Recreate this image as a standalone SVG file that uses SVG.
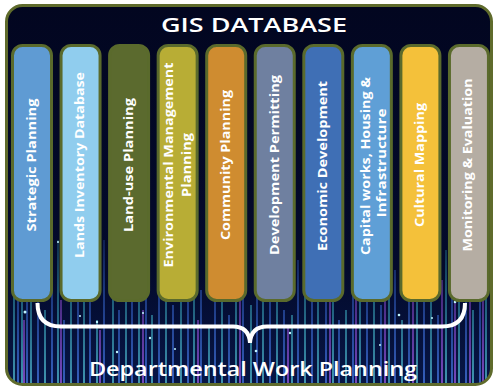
<svg xmlns="http://www.w3.org/2000/svg" width="494" height="387" viewBox="0 0 494 387">
<defs>
<linearGradient id="gc" gradientUnits="userSpaceOnUse" x1="0" y1="190" x2="0" y2="387"><stop offset="0" stop-color="#3fc6d8" stop-opacity="0"/><stop offset="0.5" stop-color="#3fc6d8" stop-opacity="0.55"/><stop offset="1" stop-color="#5fd6e8" stop-opacity="0.95"/></linearGradient>
<linearGradient id="gb" gradientUnits="userSpaceOnUse" x1="0" y1="190" x2="0" y2="387"><stop offset="0" stop-color="#3a6fe0" stop-opacity="0"/><stop offset="0.5" stop-color="#3a6fe0" stop-opacity="0.6"/><stop offset="1" stop-color="#4a80f0" stop-opacity="1"/></linearGradient>
<linearGradient id="gp" gradientUnits="userSpaceOnUse" x1="0" y1="190" x2="0" y2="387"><stop offset="0" stop-color="#8a3fd0" stop-opacity="0"/><stop offset="0.5" stop-color="#9a4fe0" stop-opacity="0.6"/><stop offset="1" stop-color="#a85ff0" stop-opacity="1"/></linearGradient>
<linearGradient id="bg" x1="0" y1="0" x2="0" y2="1"><stop offset="0" stop-color="#020620"/><stop offset="0.7" stop-color="#030a2c"/><stop offset="1" stop-color="#071646"/></linearGradient>
<clipPath id="frameClip"><rect x="6.5" y="5.5" width="485" height="379" rx="16"/></clipPath>
<style>
.bar{stroke:#5a6a2c;stroke-width:3}
.lbl{font-family:"Open Sans","Liberation Sans",sans-serif;font-weight:700;font-size:12.5px;fill:#ffffff;text-anchor:middle}
.title{font-family:"Open Sans","Liberation Sans",sans-serif;font-weight:600;fill:#ffffff;text-anchor:middle}
.brace{fill:none;stroke:#ffffff;stroke-width:4}
.dot{fill:#bff4ff}
</style>
</defs>
<rect x="6.5" y="5.5" width="485" height="379" rx="16" fill="url(#bg)"/>
<g id="background" clip-path="url(#frameClip)">
<path stroke="url(#gc)" stroke-width="1.4" d="M14,250V387M22,290V387M31,265V387M45,310V387M58,240V387M71,300V387M84,275V387M97,320V387M113,255V387M126,295V387M139,270V387M152,315V387M166,245V387M181,300V387M194,280V387M209,325V387M222,260V387M236,290V387M251,305V387M263,250V387M277,285V387M292,315V387M305,265V387M318,300V387M333,240V387M346,310V387M360,275V387M374,295V387M389,255V387M402,320V387M417,270V387M431,300V387M446,250V387M459,290V387M473,310V387M486,265V387"/>
<path stroke="url(#gb)" stroke-width="1.4" d="M18,300V387M27,230V387M38,285V387M52,260V387M64,320V387M78,250V387M90,295V387M104,240V387M119,310V387M132,265V387M146,285V387M159,230V387M173,305V387M188,260V387M201,290V387M215,240V387M229,315V387M243,270V387M257,295V387M270,240V387M284,310V387M298,260V387M312,290V387M326,250V387M339,320V387M353,265V387M367,240V387M381,305V387M395,270V387M409,290V387M424,245V387M438,315V387M452,270V387M466,295V387M480,250V387"/>
<path stroke="url(#gp)" stroke-width="1.4" d="M24,320V387M61,300V387M100,330V387M143,310V387M198,320V387M240,300V387M288,325V387M330,290V387M356,270V387M385,300V387M413,260V387M442,280V387M455,300V387M470,255V387M483,290V387"/>
<g class="dot"><circle cx="25" cy="312" r="1.5"/><circle cx="58" cy="242" r="1"/><circle cx="80" cy="316" r="1"/><circle cx="97" cy="322" r="1.2"/><circle cx="117" cy="352" r="1.2"/><circle cx="143" cy="313" r="1"/><circle cx="175" cy="349" r="1"/><circle cx="209" cy="327" r="1"/><circle cx="236" cy="292" r="1"/><circle cx="256" cy="351" r="1.3"/><circle cx="305" cy="267" r="1"/><circle cx="330" cy="292" r="1"/><circle cx="356" cy="272" r="1.2"/><circle cx="399" cy="315" r="1.3"/><circle cx="413" cy="262" r="1"/><circle cx="455" cy="302" r="1.3"/><circle cx="470" cy="256" r="1.2"/><circle cx="432" cy="318" r="1"/><circle cx="150" cy="338" r="1.2"/><circle cx="290" cy="333" r="1.2"/><circle cx="380" cy="345" r="1"/></g>
</g>
<rect id="frame" x="6.5" y="5.5" width="485" height="379" rx="16" fill="none" stroke="#5f6b2c" stroke-width="3"/>
<text id="title" class="title" x="254" y="32" font-size="19" textLength="186" lengthAdjust="spacingAndGlyphs">GIS DATABASE</text>
<g id="bar1"><rect class="bar" x="12.5" y="45.5" width="39" height="255" rx="10" fill="#5f9bd3"/><text class="lbl" transform="translate(35.5,165) rotate(-90)" textLength="133" lengthAdjust="spacingAndGlyphs">Strategic Planning</text></g>
<g id="bar2"><rect class="bar" x="61.05" y="45.5" width="39" height="255" rx="10" fill="#90cdee"/><text class="lbl" transform="translate(84.2,165) rotate(-90)" textLength="186" lengthAdjust="spacingAndGlyphs">Lands Inventory Database</text></g>
<g id="bar3"><rect class="bar" x="109.6" y="45.5" width="39" height="255" rx="10" fill="#5b6a2e"/><text class="lbl" transform="translate(132.8,165) rotate(-90)" textLength="134" lengthAdjust="spacingAndGlyphs">Land-use Planning</text></g>
<g id="bar4"><rect class="bar" x="158.15" y="45.5" width="39" height="255" rx="10" fill="#b8ad35"/><text class="lbl" transform="translate(173.3,165) rotate(-90)" textLength="205" lengthAdjust="spacingAndGlyphs">Environmental Management</text><text class="lbl" transform="translate(190.6,165) rotate(-90)" textLength="64" lengthAdjust="spacingAndGlyphs">Planning</text></g>
<g id="bar5"><rect class="bar" x="206.7" y="45.5" width="39" height="255" rx="10" fill="#cf8c30"/><text class="lbl" transform="translate(229.9,165) rotate(-90)" textLength="150" lengthAdjust="spacingAndGlyphs">Community Planning</text></g>
<g id="bar6"><rect class="bar" x="255.25" y="45.5" width="39" height="255" rx="10" fill="#6f80a0"/><text class="lbl" transform="translate(278.5,165) rotate(-90)" textLength="180" lengthAdjust="spacingAndGlyphs">Development Permitting</text></g>
<g id="bar7"><rect class="bar" x="303.8" y="45.5" width="39" height="255" rx="10" fill="#3f6fb5"/><text class="lbl" transform="translate(327,166) rotate(-90)" textLength="170" lengthAdjust="spacingAndGlyphs">Economic Development</text></g>
<g id="bar8"><rect class="bar" x="352.35" y="45.5" width="39" height="255" rx="10" fill="#5f9fd6"/><text class="lbl" transform="translate(369.8,166) rotate(-90)" textLength="178" lengthAdjust="spacingAndGlyphs">Capital works, Housing &amp;</text><text class="lbl" transform="translate(385.8,163) rotate(-90)" textLength="109" lengthAdjust="spacingAndGlyphs">Infrastructure</text></g>
<g id="bar9"><rect class="bar" x="400.9" y="45.5" width="39" height="255" rx="10" fill="#f4c13a"/><text class="lbl" transform="translate(424,165) rotate(-90)" textLength="124" lengthAdjust="spacingAndGlyphs">Cultural Mapping</text></g>
<g id="bar10"><rect class="bar" x="449.45" y="45.5" width="39" height="255" rx="10" fill="#b5ada3"/><text class="lbl" transform="translate(472.3,165) rotate(-90)" textLength="173" lengthAdjust="spacingAndGlyphs">Monitoring &amp; Evaluation</text></g>
<g id="connectors">
<path class="brace" d="M37.5,303 Q37.5,326.5 61,326.5 L233,326.5 Q249,326.5 250,343"/>
<path class="brace" d="M465,303 Q465,326.5 442,326.5 L267,326.5 Q251,326.5 250,343"/>
</g>
<text id="footer" class="title" x="253" y="376" font-size="20" textLength="328" lengthAdjust="spacingAndGlyphs">Departmental Work Planning</text>
</svg>
